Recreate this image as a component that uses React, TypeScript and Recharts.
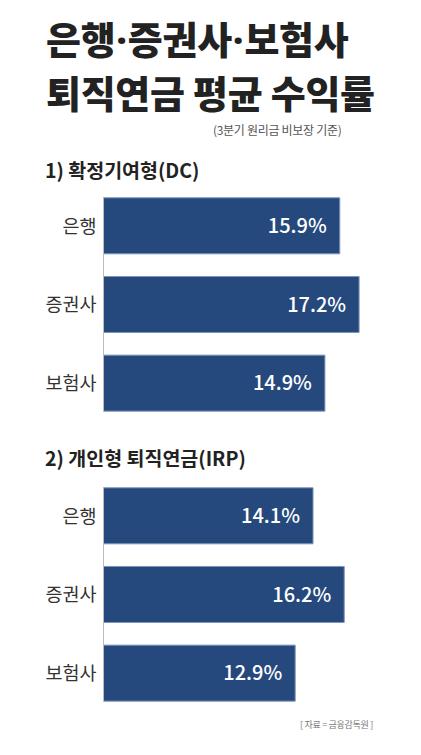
import React from 'react';
import { BarChart, Bar, XAxis, YAxis, LabelList } from 'recharts';

const categories = ['은행', '증권사', '보험사'];
const dcValues = [15.9, 17.2, 14.9];
const irpValues = [14.1, 16.2, 12.9];

const titleParts = ['은행', '증권사', '보험사'];
const titleLine2 = '퇴직연금 평균 수익률';
const subtitle = '(3분기 원리금 비보장 기준)';
const dcHeading = '1) 확정기여형(DC)';
const irpHeading = '2) 개인형 퇴직연금(IRP)';
const sourceText = '[ 자료 = 금융감독원 ]';

const FONT = '"Noto Sans CJK KR", "Noto Sans", sans-serif';
const BAR_FILL = '#25497d';
const BAR_STROKE = '#7d95ba';

function SectionChart({ top, values }: { top: number; values: number[] }) {
  const data = categories.map((name, i) => ({ name, value: values[i] }));
  return (
    <div style={{ position: 'absolute', left: 0, top }}>
      <BarChart
        layout="vertical"
        width={421}
        height={250}
        data={data}
        margin={{ top: 18.3, right: 20.3, bottom: 18.7, left: 0 }}
      >
        <XAxis type="number" domain={[0, 20]} hide />
        <YAxis
          type="category"
          dataKey="name"
          width={103.5}
          tickLine={false}
          tickSize={0}
          tickMargin={7}
          axisLine={{ stroke: '#bdbdbd' }}
          tick={{ fill: '#333', fontSize: 18.5, fontFamily: FONT }}
          padding={{ top: -11.5, bottom: -11.5 }}
        />
        <Bar
          dataKey="value"
          fill={BAR_FILL}
          stroke={BAR_STROKE}
          strokeWidth={1}
          barSize={56}
          isAnimationActive={false}
        >
          <LabelList
            dataKey="value"
            position="insideRight"
            offset={13}
            fill="#ffffff"
            stroke="none"
            fontSize={20}
            fontWeight={500}
            fontFamily={FONT}
            formatter={(v: any) => `${v}%`}
          />
        </Bar>
      </BarChart>
    </div>
  );
}

const dotStyle: React.CSSProperties = { fontFamily: '"Noto Sans", sans-serif', margin: '0 1px' };

export default function App() {
  return (
    <div
      style={{
        position: 'absolute',
        left: 0,
        top: 0,
        width: 421,
        height: 755,
        background: '#fff',
        fontFamily: FONT,
        overflow: 'hidden',
      }}
    >
      <div style={{ position: 'absolute', left: 46, top: 19, fontSize: 38, fontWeight: 800, lineHeight: '38px', color: '#222', whiteSpace: 'nowrap', letterSpacing: -0.3 }}>
        {titleParts[0]}
        <span style={dotStyle}>·</span>
        {titleParts[1]}
        <span style={dotStyle}>·</span>
        {titleParts[2]}
      </div>
      <div style={{ position: 'absolute', left: 46, top: 72.5, fontSize: 38, fontWeight: 800, lineHeight: '38px', color: '#222', whiteSpace: 'nowrap', letterSpacing: -0.3 }}>
        {titleLine2}
      </div>
      <div style={{ position: 'absolute', left: 213, top: 124, fontSize: 12, lineHeight: '12px', color: '#555', whiteSpace: 'nowrap', letterSpacing: -0.3 }}>
        {subtitle}
      </div>
      <div style={{ position: 'absolute', left: 45, top: 160, fontSize: 19.5, fontWeight: 700, lineHeight: '20px', color: '#222', whiteSpace: 'nowrap' }}>
        {dcHeading}
      </div>
      <SectionChart top={180} values={dcValues} />
      <div style={{ position: 'absolute', left: 45, top: 448, fontSize: 19.5, fontWeight: 700, lineHeight: '20px', color: '#222', whiteSpace: 'nowrap' }}>
        {irpHeading}
      </div>
      <SectionChart top={470.4} values={irpValues} />
      <div style={{ position: 'absolute', left: 300, top: 720, fontSize: 9, lineHeight: '10px', color: '#777', whiteSpace: 'pre', letterSpacing: -0.3 }}>
        {sourceText}
      </div>
    </div>
  );
}
